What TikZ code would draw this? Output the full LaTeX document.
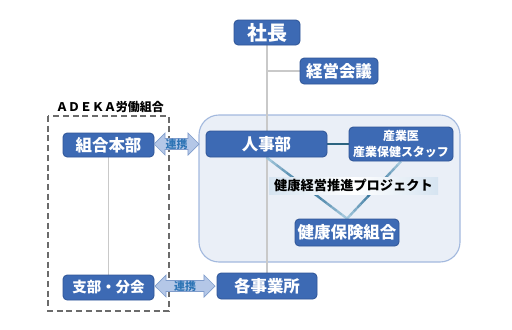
\documentclass[tikz,border=0pt]{standalone}
\usepackage{fontspec}
\setmainfont{Noto Sans CJK JP}
\usetikzlibrary{shapes.arrows,backgrounds,calc}

\definecolor{boxblue}{HTML}{3D6AB4}
\definecolor{boxedge}{HTML}{2F5597}
\definecolor{panelfill}{HTML}{EAEFF7}
\definecolor{paneledge}{HTML}{A3B9DE}
\definecolor{trunkgray}{HTML}{C9C9C9}
\definecolor{projline}{HTML}{23668F}
\definecolor{projlight}{HTML}{A9CCE0}
\definecolor{staffline}{HTML}{2C6480}
\definecolor{bandblue}{HTML}{D6E4F1}
\definecolor{arrowfill}{HTML}{B4C7E7}
\definecolor{arrowedge}{HTML}{7F9CCB}
\definecolor{linktext}{HTML}{2E75B6}

\begin{document}
\begin{tikzpicture}[
  orgbox/.style={draw=boxedge, fill=boxblue, rounded corners=3pt, text=white,
    inner sep=0pt, line width=0.6pt},
  linkarrow/.style={double arrow, draw=arrowedge, fill=arrowfill, text=linktext,
    font=\bfseries\fontsize{7.8}{8}\selectfont, inner sep=0pt, line width=0.5pt,
    minimum width=0.55cm, double arrow head extend=0.1375cm}]
  \useasboundingbox (0,0) rectangle (12.8,-8.225);
  \node at (6.675,-0.8125) [orgbox, minimum width=1.65cm, minimum height=0.625cm,
    font=\bfseries\fontsize{14.2}{16}\selectfont] (shacho) {社長};
  \node at (8.475,-1.775) [orgbox, minimum width=1.95cm, minimum height=0.65cm,
    font=\bfseries\fontsize{11.7}{14}\selectfont] (kaigi) {経営会議};
  \node at (6.6625,-3.6) [orgbox, minimum width=3.025cm, minimum height=0.65cm,
    font=\bfseries\fontsize{11.7}{14}\selectfont] (jinji) {人事部};
  \node at (10.025,-3.6) [orgbox, minimum width=2.6cm, minimum height=0.85cm, align=center,
    font=\bfseries\fontsize{8.5}{12}\selectfont] (sangyoi) {産業医\\産業保健スタッフ};
  \node at (8.8375,-4.6375) [minimum width=4.225cm, minimum height=0.425cm, inner sep=0pt,
    left color=bandblue, right color=bandblue, middle color=white,
    font=\bfseries\fontsize{9.4}{11}\selectfont] (project) {健康経営推進プロジェクト};
  \node at (8.675,-5.8125) [orgbox, minimum width=2.6cm, minimum height=0.675cm,
    font=\bfseries\fontsize{11.7}{14}\selectfont] (kenpo) {健康保険組合};
  \node at (6.675,-7.15) [orgbox, minimum width=2.5cm, minimum height=0.65cm,
    font=\bfseries\fontsize{11.7}{14}\selectfont] (jigyosho) {各事業所};
  \node at (2.7125,-3.625) [orgbox, minimum width=2.275cm, minimum height=0.6cm,
    font=\bfseries\fontsize{11.7}{14}\selectfont] (honbu) {組合本部};
  \node at (2.7125,-7.1875) [orgbox, minimum width=2.275cm, minimum height=0.625cm,
    font=\bfseries\fontsize{10.3}{12}\selectfont] (shibu) {支部・分会};
  \node at (2.75,-2.675) [font=\bfseries\fontsize{8.5}{10}\selectfont] (unionlabel) {ＡＤＥＫＡ労働組合};
  \node at (4.4125,-3.6) [linkarrow, minimum height=1.125cm] (linktop) {連携};
  \node at (4.625,-7.15) [linkarrow, minimum height=1.5cm] (linkbottom) {連携};
  \begin{scope}[on background layer]
    \draw[draw=paneledge, fill=panelfill, rounded corners=0.5cm, line width=0.8pt]
      (4.975,-2.875) rectangle (11.5,-6.55);
    \draw[draw=black!58, line width=0.9pt, dash pattern=on 4.3pt off 2.6pt]
      (1.2,-2.9) rectangle (4.225,-7.775);
    \draw[trunkgray, line width=1.1pt] (shacho.south) -- (jigyosho.north);
    \draw[trunkgray, line width=1.1pt] (shacho.south |- kaigi.west) -- (kaigi.west);
    \draw[trunkgray, line width=1.1pt] (honbu.south) -- (shibu.north);
    \draw[staffline, line width=1.1pt] (jinji.east) -- (sangyoi.west);
    \foreach \from in {jinji,sangyoi}{
      \foreach \s in {0,...,15}{
        \pgfmathsetmacro\ta{\s/16}
        \pgfmathsetmacro\tb{(\s+1)/16}
        \pgfmathtruncatemacro\mix{100-abs(\s+0.5-8)/8*100}
        \draw[projline!\mix!projlight, line width=1.7pt]
          ($(\from.south)!\ta!(kenpo.north)$) -- ($(\from.south)!\tb!(kenpo.north)$);
      }
    }
  \end{scope}
\end{tikzpicture}
\end{document}
